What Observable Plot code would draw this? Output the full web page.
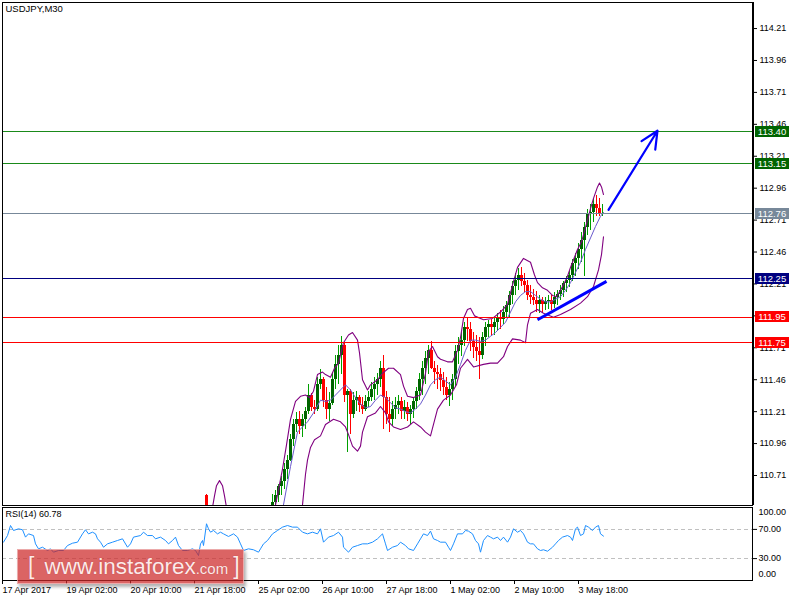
<!DOCTYPE html>
<html>
<head>
<meta charset="utf-8">
<script src="https://cdn.jsdelivr.net/npm/d3@7"></script>
<script src="https://cdn.jsdelivr.net/npm/@observablehq/plot@0.6"></script>
<style>
  html, body { margin: 0; padding: 0; background: #fff; }
  #wrap { position: relative; width: 800px; height: 600px; overflow: hidden; font-family: "Liberation Sans", Arial, sans-serif; }
  #main { position: absolute; left: 0; top: 0; }
  #rsi { position: absolute; left: 0; top: 506px; }
  .lvl { position: absolute; left: 755px; width: 34px; height: 11px; line-height: 11px; color: #fff; font-size: 9.5px; text-align: center; }
  #wm { position: absolute; left: 17px; top: 549px; width: 227px; height: 35px; background: rgba(205, 40, 40, 0.72);
        border: 1px solid rgba(255,255,255,0.45); box-shadow: 2px 3px 3px rgba(0,0,0,0.3); box-sizing: border-box;
        color: #fdeaea; white-space: nowrap; line-height: 33px; font-family: "Liberation Sans", Arial, sans-serif; text-shadow: 0 0 1px rgba(120,0,0,0.4); }
  #wm .br { font-size: 23px; font-weight: 300; }
  #wm .big { font-size: 22.5px; }
  #wm .sm { font-size: 15px; }
  svg line, svg rect { shape-rendering: crispEdges; }
</style>
</head>
<body>
<div id="wrap">
  <div id="main"></div>
  <div id="rsi"></div>
  <div id="wm"><span class="br" style="margin-left:10px;margin-right:10px">[</span><span class="big">www.instaforex</span><span class="sm">.com</span><span class="br" style="margin-left:5px">]</span></div>
</div>
<script>
// ---------- text ----------
const chartTitle = "USDJPY,M30";
const rsiTitle = "RSI(14) 60.78";

// ---------- axes ----------
const priceTicks = [114.21, 113.96, 113.71, 113.46, 113.21, 112.96, 112.71, 112.46, 112.21, 111.96, 111.71, 111.46, 111.21, 110.96, 110.71];
const priceView = [110.475, 114.414];
const tickBars = [0, 64, 128, 192, 256, 320, 384, 448, 512, 576];
const tickLabels = ["17 Apr 2017", "19 Apr 02:00", "20 Apr 10:00", "21 Apr 18:00", "25 Apr 02:00", "26 Apr 10:00", "27 Apr 18:00", "1 May 02:00", "2 May 10:00", "3 May 18:00"];
const barView = [0, 750];

// ---------- horizontal levels ----------
const levelPrices = [113.40, 113.15, 112.76, 112.25, 111.95, 111.75];
const levelKinds = ["target", "target", "bid", "pivot", "support", "support"];

// ---------- candles (bar index, OHLC) ----------
const candleBar = [204, 270,273,276,279,282,285,288,291,294,297,300,303,306,309,312,315,318,321,324,327,330,333,336,339,342,345,348,351,354,357,360,363,366,369,372,375,378,381,384,387,390,393,396,399,402,405,408,411,414,417,420,423,426,429,432,435,438,441,444,447,450,453,456,459,462,465,468,471,474,477,480,483,486,489,492,495,498,501,504,507,510,513,516,519,522,525,528,531,534,537,540,543,546,549,552,555,558,561,564,567,570,573,576,579,582,585,588,591,594,597,600];
const candleOpen = [110.55,110.46,110.50,110.55,110.62,110.66,110.76,110.83,110.99,111.11,
  111.15,111.09,111.15,111.21,111.34,111.24,111.23,111.42,111.46,111.30,
  111.23,111.27,111.46,111.58,111.65,111.73,111.34,111.37,111.19,111.30,
  111.32,111.26,111.23,111.29,111.32,111.38,111.42,111.46,111.55,111.32,
  111.19,111.15,111.23,111.26,111.29,111.21,111.24,111.19,111.23,111.29,
  111.37,111.46,111.55,111.63,111.69,111.55,111.52,111.50,111.45,111.40,
  111.34,111.38,111.46,111.68,111.73,111.77,111.87,111.85,111.76,111.71,
  111.68,111.65,111.79,111.87,111.89,111.87,111.91,111.94,111.93,111.99,
  112.04,112.12,112.19,112.24,112.28,112.23,112.20,112.12,112.10,112.08,
  112.05,112.08,112.05,112.07,112.08,112.05,112.10,112.13,112.16,112.21,
  112.24,112.28,112.37,112.41,112.48,112.55,112.65,112.75,112.77,112.83,
  112.80,112.75];
const candleHigh = [110.56,110.56,110.59,110.64,110.70,110.80,110.87,111.03,111.15,111.20,
  111.21,111.19,111.24,111.42,111.35,111.30,111.48,111.54,111.48,111.40,
  111.36,111.52,111.65,111.73,111.80,111.75,111.38,111.38,111.36,111.37,
  111.34,111.32,111.34,111.37,111.44,111.48,111.51,111.60,111.65,111.37,
  111.32,111.29,111.32,111.34,111.32,111.30,111.28,111.26,111.32,111.40,
  111.51,111.60,111.68,111.73,111.76,111.60,111.57,111.55,111.52,111.48,
  111.44,111.50,111.73,111.79,111.83,111.91,111.94,111.91,111.83,111.81,
  111.79,111.83,111.91,111.92,111.93,111.94,111.98,112.00,112.03,112.07,
  112.15,112.23,112.29,112.33,112.34,112.29,112.24,112.20,112.17,112.15,
  112.12,112.10,112.10,112.12,112.12,112.14,112.16,112.20,112.23,112.27,
  112.31,112.40,112.45,112.53,112.61,112.69,112.79,112.83,112.87,112.90,
  112.88,112.83];
const candleLow = [110.41,110.43,110.46,110.50,110.55,110.60,110.68,110.82,110.94,111.05,
  111.03,111.01,111.07,111.19,111.21,111.19,111.21,111.38,111.24,111.15,
  111.13,111.26,111.38,111.42,111.50,111.28,110.89,111.03,111.16,111.21,
  111.20,111.19,111.21,111.24,111.29,111.30,111.34,111.40,111.07,111.11,
  111.05,111.09,111.15,111.19,111.15,111.15,111.13,111.11,111.16,111.23,
  111.30,111.34,111.42,111.50,111.54,111.42,111.38,111.37,111.34,111.30,
  111.25,111.30,111.40,111.58,111.64,111.72,111.76,111.68,111.63,111.60,
  111.46,111.62,111.72,111.79,111.80,111.81,111.84,111.85,111.89,111.94,
  111.95,112.05,112.12,112.16,112.19,112.14,112.08,112.05,112.04,111.99,
  111.98,111.98,112.00,112.01,112.00,112.02,112.04,112.08,112.10,112.14,
  112.18,112.23,112.27,112.32,112.38,112.27,112.59,112.63,112.69,112.74,
  112.74,112.74];
const candleClose = [110.44,110.50,110.55,110.62,110.66,110.76,110.83,110.99,111.11,111.15,
  111.09,111.15,111.21,111.34,111.24,111.23,111.42,111.46,111.30,111.23,
  111.27,111.46,111.58,111.65,111.73,111.34,111.37,111.19,111.30,111.32,
  111.26,111.23,111.29,111.32,111.38,111.42,111.46,111.55,111.32,111.19,
  111.15,111.23,111.26,111.29,111.21,111.24,111.19,111.23,111.29,111.37,
  111.46,111.55,111.63,111.69,111.55,111.52,111.50,111.45,111.40,111.34,
  111.38,111.46,111.68,111.73,111.77,111.87,111.85,111.76,111.71,111.68,
  111.65,111.79,111.87,111.89,111.87,111.91,111.94,111.93,111.99,112.04,
  112.12,112.19,112.24,112.28,112.23,112.20,112.12,112.10,112.08,112.05,
  112.08,112.05,112.07,112.08,112.05,112.10,112.13,112.16,112.21,112.24,
  112.28,112.37,112.41,112.48,112.55,112.65,112.75,112.77,112.83,112.80,
  112.75,112.76];

// ---------- Bollinger bands ----------
const bumpBar = [210, 212, 214, 217, 220, 222, 224];
const bumpPrice = [110.46, 110.55, 110.63, 110.67, 110.63, 110.55, 110.46];
const upperBar = [273,276,280,284,288,293,298,303,307,311,315,320,323,328,332,336,341,346,350,355,357,360,365,368,375,380,386,391,398,401,405,411,418,423,426,430,435,438,445,450,455,458,461,465,468,472,481,490,498,505,510,515,521,528,532,535,540,545,550,554,558,562,565,568,571,575,579,585,588,591,595,597,599,601];
const upperPrice = [110.48,110.60,110.76,110.95,111.15,111.29,111.33,111.34,111.32,111.37,
  111.50,111.52,111.50,111.48,111.55,111.59,111.75,111.81,111.83,111.77,
  111.67,111.46,111.38,111.42,111.46,111.51,111.55,111.55,111.50,111.41,
  111.33,111.32,111.34,111.51,111.68,111.72,111.64,111.62,111.60,111.60,
  111.69,111.79,111.94,112.01,112.02,111.96,111.93,111.94,111.99,112.05,
  112.20,112.34,112.41,112.38,112.28,112.22,112.18,112.16,112.12,112.11,
  112.16,112.22,112.27,112.34,112.40,112.48,112.54,112.71,112.80,112.88,
  112.97,113.00,112.97,112.91];
const lowerBar = [300,303,305,308,312,318,323,331,338,343,346,350,355,358,360,365,373,378,383,386,391,398,405,411,418,423,428,431,435,441,448,454,458,465,471,481,488,495,501,505,510,518,523,525,528,535,541,551,558,568,578,585,591,596,599,601];
const lowerPrice = [110.48,110.72,110.83,110.93,110.99,111.02,111.11,111.15,111.13,111.09,
  111.03,110.94,110.90,110.94,111.05,111.17,111.20,111.25,111.20,111.13,
  111.09,111.07,111.09,111.13,111.09,111.05,111.02,111.11,111.23,111.30,
  111.34,111.42,111.55,111.62,111.56,111.58,111.59,111.59,111.64,111.72,
  111.78,111.77,111.75,111.89,111.98,112.01,111.98,111.95,111.97,112.01,
  112.06,112.11,112.19,112.32,112.44,112.58];
const middleBar = [281,288,295,305,311,318,323,328,333,338,343,348,353,358,363,368,373,378,383,388,393,398,403,408,413,418,423,428,433,438,443,448,453,458,463,468,473,478,483,488,493,498,503,508,513,518,523,528,533,538,543,548,553,558,563,568,573,578,583,588,593,598,601];
const middlePrice = [110.48,110.78,111.05,111.13,111.20,111.30,111.29,111.30,111.34,111.38,
  111.42,111.38,111.32,111.27,111.24,111.25,111.30,111.34,111.32,111.28,
  111.24,111.23,111.21,111.20,111.23,111.27,111.34,111.42,111.46,111.48,
  111.45,111.42,111.48,111.58,111.69,111.77,111.77,111.76,111.77,111.80,
  111.83,111.87,111.91,111.99,112.07,112.12,112.15,112.15,112.12,112.09,
  112.07,112.07,112.09,112.11,112.16,112.22,112.30,112.38,112.48,112.57,
  112.66,112.74,112.77];

// ---------- drawn trend line and arrow ----------
const trendBar = [535, 604];
const trendPrice = [111.93, 112.23];
const arrowBar = [606, 655];
const arrowPrice = [112.79, 113.41];

// ---------- RSI(14) ----------
const rsiBar = [1,5,8,11,16,20,23,26,31,33, 36,40,45,48,51,56,61,65,70,75,
  80,83,86,90,93,95,98,101,105,110, 115,120,125,128,131,138,141,145,150,153,
  158,163,166,170,173,176,180,185,190,193, 196,198,200,201,204,206,208,211,215,218,
  221,226,231,235,238,241,246,251,256,258, 261,265,270,275,280,285,290,295,300,305,
  310,315,318,321,326,331,336,340,341,346, 350,355,360,365,370,375,380,383,385,390,
  395,398,403,406,411,415,418,421,425,428, 431,435,438,443,446,448,451,455,460,463,
  466,470,473,476,478,481,485,488,491,495, 498,501,505,508,511,515,518,521,525,528,
  531,535,538,541,545,550,553,556,560,565, 568,570,573,575,578,581,583,586,590,593,
  596,598,601];
const rsiValue = [52.5,61.6,75.3,68.5,70.8,69.5,59.4,63.9,61.6,50.2, 43.4,45.6,41.1,43.4,38.8,41.1,41.1,47.9,51.1,52.5,
  63.9,69.5,63.9,66.2,63.9,57.1,52.5,45.6,50.2,52.5, 54.8,57.1,45.6,50.2,59.4,61.6,66.2,61.6,61.6,57.1,
  59.4,54.8,50.2,54.8,59.4,47.9,41.1,41.1,43.4,41.1, 34.2,50.2,54.8,47.9,77.7,70.8,66.2,68.5,63.9,66.2,
  63.9,60.3,63.9,59.4,50.2,41.1,43.4,42.1,38.8,43.4, 50.2,54.8,63.9,68.5,73.1,75.3,73.1,73.1,66.2,63.9,
  66.2,63.9,70.8,52.5,59.4,61.6,66.2,59.4,45.6,38.8, 45.6,47.9,50.2,50.2,52.5,57.1,63.9,50.2,41.1,45.6,
  47.9,52.5,47.9,43.4,41.1,50.2,57.1,63.9,61.6,67.6, 57.1,54.8,52.5,52.5,45.6,41.1,50.2,63.9,63.9,68.5,
  67.6,63.9,54.8,50.2,38.8,54.8,61.6,59.4,57.1,59.4, 54.8,59.4,52.5,59.4,70.8,66.2,68.5,63.9,52.5,50.2,
  50.2,43.4,41.1,42.1,40.1,45.6,50.2,54.8,59.4,61.6, 59.4,54.8,70.8,73.1,61.6,63.9,75.3,73.1,68.5,73.1,
  75.3,63.9,60.78];
const rsiLevels = [70, 30];
const rsiRange = [0, 100];

// ---------- build ----------
const font = "'Liberation Sans', Arial, sans-serif";
const lineColor = {target: "#1a8a1a", bid: "#778899", pivot: "#000080", support: "#ff0000"};
const boxColor = {target: "#006400", bid: "#778899", pivot: "#000080", support: "#ff0000"};
const upBody = "#006400", upWick = "#00a000", downColor = "#ff0000";

const candles = candleBar.map((bar, i) => ({bar, open: candleOpen[i], high: candleHigh[i], low: candleLow[i], close: candleClose[i]}));
const series = (bars, prices, name) => bars.map((bar, i) => ({bar, price: prices[i], band: name}));
const outer = series(upperBar, upperPrice, "upper").concat(series(lowerBar, lowerPrice, "lower"), series(bumpBar, bumpPrice, "bump"));
const middle = series(middleBar, middlePrice, "middle");
const levels = levelPrices.map((price, i) => ({price, kind: levelKinds[i]}));
const trend = [{b1: trendBar[0], p1: trendPrice[0], b2: trendBar[1], p2: trendPrice[1]}];
const arrow = [{b1: arrowBar[0], p1: arrowPrice[0], b2: arrowBar[1], p2: arrowPrice[1]}];
const rsi = rsiBar.map((bar, i) => ({bar, value: rsiValue[i]}));

const mainPlot = Plot.plot({
  width: 800, height: 506,
  marginLeft: 2, marginRight: 48, marginTop: 2, marginBottom: 1,
  style: {fontFamily: font, fontSize: "9px", color: "#000", background: "transparent", overflow: "visible"},
  x: {domain: barView, axis: null},
  y: {domain: priceView},
  color: {type: "identity"},
  marks: [
    Plot.ruleX(candles, {x: "bar", y1: "low", y2: "high", stroke: d => d.close >= d.open ? upWick : downColor, strokeWidth: 1, clip: true}),
    Plot.ruleX(candles, {x: "bar", y1: "open", y2: "close", stroke: d => d.close >= d.open ? upBody : downColor, strokeWidth: 2.8, clip: true}),
    Plot.line(outer, {x: "bar", y: "price", z: "band", stroke: "#800080", strokeWidth: 1.1, clip: true}),
    Plot.line(middle, {x: "bar", y: "price", stroke: "#6a5acd", strokeWidth: 1, clip: true}),
    Plot.ruleY(levels, {y: "price", stroke: d => lineColor[d.kind], strokeWidth: 1}),
    Plot.link(trend, {x1: "b1", y1: "p1", x2: "b2", y2: "p2", stroke: "#0000ff", strokeWidth: 3}),
    Plot.arrow(arrow, {x1: "b1", y1: "p1", x2: "b2", y2: "p2", stroke: "#0000ff", strokeWidth: 2.2, headLength: 13, headAngle: 50}),
    Plot.frame({stroke: "#000"}),
    Plot.ruleX([barView[1]], {stroke: "#000", strokeWidth: 2}),
    Plot.axisY(priceTicks, {anchor: "right", tickSize: 4, tickPadding: 3, tickFormat: d => d.toFixed(2), label: null, fontSize: 9}),
    Plot.text([chartTitle], {frameAnchor: "top-left", dx: 3, dy: 3, textAnchor: "start", lineAnchor: "top", fontSize: 9.5, fill: "#000"})
  ]
});
document.getElementById("main").append(mainPlot);

// level value boxes on the price axis, positioned with the plot's own y scale
const ys = mainPlot.scale("y");
for (const d of levels) {
  const el = document.createElement("div");
  el.className = "lvl";
  el.style.top = (ys.apply(d.price) - 5.5) + "px";
  el.style.background = boxColor[d.kind];
  el.textContent = d.price.toFixed(2);
  document.getElementById("wrap").append(el);
}

const rsiPlot = Plot.plot({
  width: 800, height: 94,
  marginLeft: 2, marginRight: 48, marginTop: 1, marginBottom: 20,
  style: {fontFamily: font, fontSize: "9px", color: "#000", background: "transparent", overflow: "visible"},
  x: {domain: barView},
  y: {domain: rsiRange},
  marks: [
    Plot.ruleY(rsiLevels, {stroke: "#c0c0c0", strokeDasharray: "4,3"}),
    Plot.line(rsi, {x: "bar", y: "value", stroke: "#1e90ff", strokeWidth: 1}),
    Plot.frame({stroke: "#000"}),
    Plot.axisY(rsiLevels, {anchor: "right", tickSize: 4, tickPadding: 2, tickFormat: d => d.toFixed(2), label: null}),
    Plot.text([rsiRange[1]], {x: barView[1], y: d => d, dx: 6, dy: 5, text: d => d.toFixed(2), textAnchor: "start", fill: "#000"}),
    Plot.text([rsiRange[0]], {x: barView[1], y: d => d, dx: 6, dy: -6, text: d => d.toFixed(2), textAnchor: "start", fill: "#000"}),
    Plot.axisX(tickBars, {anchor: "bottom", tickSize: 4, tickPadding: 2, textAnchor: "start", tickFormat: d => tickLabels[tickBars.indexOf(d)], label: null}),
    Plot.text([rsiTitle], {frameAnchor: "top-left", dx: 3, dy: 3, textAnchor: "start", lineAnchor: "top", fill: "#000"})
  ]
});
document.getElementById("rsi").append(rsiPlot);
</script>
</body>
</html>
